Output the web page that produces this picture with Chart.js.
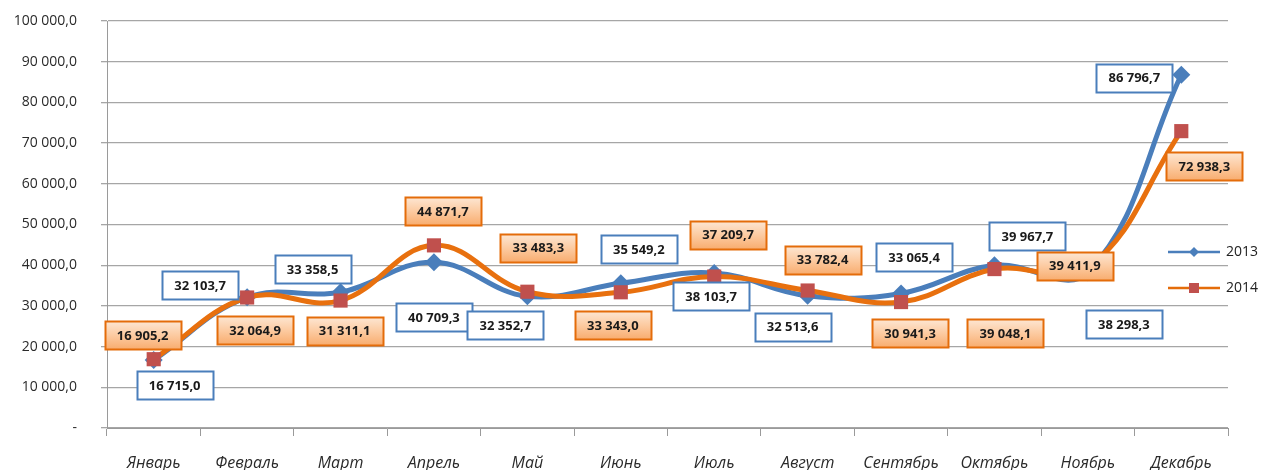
<!DOCTYPE html>
<html>
<head>
<meta charset="utf-8">
<script src="https://cdn.jsdelivr.net/npm/chart.js@4"></script>
<style>
  html, body { margin: 0; padding: 0; background: #fff; }
  #wrap { width: 1263px; height: 470px; position: relative; }
</style>
</head>
<body>
<div id="wrap"><canvas id="sales-chart" width="1263" height="470"></canvas></div>
<script>
const months = ['Январь', 'Февраль', 'Март', 'Апрель', 'Май', 'Июнь', 'Июль', 'Август', 'Сентябрь', 'Октябрь', 'Ноябрь', 'Декабрь'];
const values2013 = [16715.0, 32103.7, 33358.5, 40709.3, 32352.7, 35549.2, 38103.7, 32513.6, 33065.4, 39967.7, 38298.3, 86796.7];
const values2014 = [16905.2, 32064.9, 31311.1, 44871.7, 33483.3, 33343.0, 37209.7, 33782.4, 30941.3, 39048.1, 39411.9, 72938.3];
const yTicks = [0, 10000, 20000, 30000, 40000, 50000, 60000, 70000, 80000, 90000, 100000];

// label box offsets from the point (px), same order as months
const offsets2013 = [[21, 25], [-47, -12], [-28, -23], [0, 55], [-22, 29], [18, -34], [-3, 23], [-15, 31], [13, -36], [33, -29], [36, 52], [-47, 3]];
const offsets2014 = [[-11, -24], [8, 33], [4, 30], [9, -34], [11, -44], [-8, 33], [14, -42], [15, -31], [9, 31], [11, 64], [-13, -2], [23, 35]];

function fmt(v) {
  const parts = v.toFixed(1).split('.');
  return parts[0].replace(/\B(?=(\d{3})+(?!\d))/g, ' ') + ',' + parts[1];
}

const boxLabels = {
  id: 'boxLabels',
  afterDatasetsDraw(chart) {
    const ctx = chart.ctx;
    const sets = [
      { meta: chart.getDatasetMeta(0), vals: values2013, offs: offsets2013, orange: false },
      { meta: chart.getDatasetMeta(1), vals: values2014, offs: offsets2014, orange: true }
    ];
    ctx.save();
    ctx.font = 'bold 13px "Open Sans", sans-serif';
    ctx.textAlign = 'center';
    ctx.textBaseline = 'middle';
    sets.forEach(s => {
      s.meta.data.forEach((pt, i) => {
        const cx = pt.x + s.offs[i][0];
        const cy = pt.y + s.offs[i][1];
        const w = 76, h = 28;
        const x0 = Math.round(cx - w / 2) + 0.5, y0 = Math.round(cy - h / 2) + 0.5;
        if (s.orange) {
          const g = ctx.createLinearGradient(0, y0, 0, y0 + h);
          g.addColorStop(0, '#fde6d2');
          g.addColorStop(0.5, '#fccaa0');
          g.addColorStop(1, '#f8ac6e');
          ctx.fillStyle = g;
          ctx.strokeStyle = '#e46c0a';
        } else {
          ctx.fillStyle = '#ffffff';
          ctx.strokeStyle = '#4a7ebb';
        }
        ctx.lineWidth = 2;
        ctx.fillRect(x0, y0, w, h);
        ctx.strokeRect(x0, y0, w, h);
        ctx.fillStyle = '#1a1a1a';
        ctx.fillText(fmt(s.vals[i]), cx, cy + 1);
      });
    });
    ctx.restore();
  }
};

const sideLegend = {
  id: 'sideLegend',
  afterDraw(chart) {
    const ctx = chart.ctx;
    const items = [
      { text: '2013', y: 252, line: '#4a7ebb', marker: 'diamond', fill: '#4a7ebb' },
      { text: '2014', y: 288, line: '#e46c0a', marker: 'square', fill: '#c0504d' }
    ];
    ctx.save();
    items.forEach(it => {
      ctx.strokeStyle = it.line;
      ctx.lineWidth = 2.5;
      ctx.beginPath();
      ctx.moveTo(1168, it.y);
      ctx.lineTo(1220, it.y);
      ctx.stroke();
      ctx.fillStyle = it.fill;
      if (it.marker === 'diamond') {
        ctx.beginPath();
        ctx.moveTo(1194, it.y - 5);
        ctx.lineTo(1199, it.y);
        ctx.lineTo(1194, it.y + 5);
        ctx.lineTo(1189, it.y);
        ctx.closePath();
        ctx.fill();
      } else {
        ctx.fillRect(1189, it.y - 5, 10, 10);
      }
      ctx.fillStyle = '#222';
      ctx.font = '14px "Open Sans", sans-serif';
      ctx.textAlign = 'left';
      ctx.textBaseline = 'middle';
      ctx.fillText(it.text, 1226, it.y);
    });
    ctx.restore();
  }
};

const ctx = document.getElementById('sales-chart').getContext('2d');
new Chart(ctx, {
  type: 'line',
  data: {
    labels: months,
    datasets: [{
      label: '2013',
      data: values2013,
      borderColor: '#4a7ebb',
      backgroundColor: '#4a7ebb',
      borderWidth: 5,
      tension: 0.4,
      pointStyle: 'rectRot',
      pointRadius: 9,
      pointBackgroundColor: '#4a7ebb',
      pointBorderWidth: 0,
      order: 2
    }, {
      label: '2014',
      data: values2014,
      borderColor: '#e8700e',
      backgroundColor: '#c0504d',
      borderWidth: 5,
      tension: 0.4,
      pointStyle: 'rect',
      pointRadius: 10,
      pointBackgroundColor: '#c0504d',
      pointBorderWidth: 0,
      order: 1
    }]
  },
  options: {
    responsive: false,
    animation: false,
    layout: { padding: { top: 21, right: 35, left: 0, bottom: 0 } },
    plugins: {
      legend: { display: false },
      tooltip: { enabled: false }
    },
    scales: {
      x: {
        offset: true,
        grid: { offset: true, drawOnChartArea: false, tickLength: 8, color: '#9a9a9a' },
        border: { color: '#9a9a9a' },
        ticks: {
          padding: 18,
          autoSkip: false,
          maxRotation: 0,
          color: '#2a2a2a',
          font: { family: '"Open Sans", sans-serif', size: 16, style: 'italic' }
        },
        afterFit(scale) { scale.height = 42; }
      },
      y: {
        min: 0,
        max: 100000,
        afterBuildTicks(scale) { scale.ticks = yTicks.map(v => ({ value: v })); },
        grid: { color: '#a6a6a6', tickLength: 6, lineWidth: 1.3 },
        border: { color: '#9a9a9a' },
        ticks: {
          padding: 24,
          color: '#2a2a2a',
          font: { family: '"Open Sans", sans-serif', size: 14 },
          callback: v => v === 0 ? '-' : fmt(v)
        },
        afterFit(scale) {
          scale.width = 107;
          scale.paddingTop = 0;
          scale.paddingBottom = 0;
        }
      }
    }
  },
  plugins: [boxLabels, sideLegend]
});
</script>
</body>
</html>
